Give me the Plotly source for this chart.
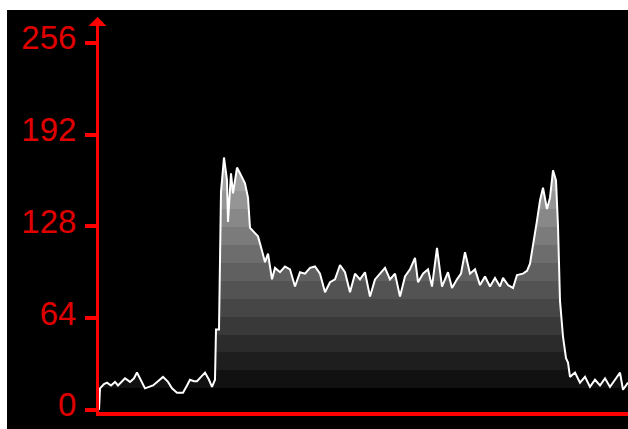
import plotly.graph_objects as go

# Line-profile data (position along profile, intensity 0-255)
positions = [2, 3, 7, 10, 14, 18, 21, 25, 28, 33, 37, 40, 44, 48, 52, 56, 61, 66, 71, 75,
             80, 86, 90, 93, 97, 100, 104, 108, 112, 115, 118, 119, 122, 123, 124, 127, 130, 131, 134, 136,
             140, 143, 145, 148, 151, 153, 157, 161, 165, 168, 171, 173, 175, 178, 183, 188, 193, 198, 203, 208,
             213, 218, 223, 228, 233, 238, 243, 248, 253, 258, 263, 268, 273, 278, 283, 288, 293, 298, 303, 308,
             313, 318, 321, 326, 331, 335, 340, 345, 351, 355, 360, 364, 368, 373, 378, 383, 388, 393, 398, 403,
             406, 411, 416, 420, 426, 430, 433, 436, 440, 443, 446, 450, 453, 456, 459, 461, 463, 466, 469, 471,
             473, 478, 483, 488, 493, 498, 503, 508, 513, 518, 523, 526, 531]
intensity = [0, 15, 18, 19, 17, 19.5, 17, 20, 22, 19.5, 22, 26, 20, 15, 16, 17, 20, 23, 19.5, 15,
             12, 12, 17, 21, 20, 20, 23, 26, 21, 16, 21, 56, 56, 111, 152, 176, 160, 131, 165, 151,
             169, 165, 162, 158, 148, 127, 124, 121, 111, 103, 109, 101, 91, 99, 96, 100, 98, 86, 96, 95,
             99, 100, 95, 82, 89, 91, 101, 96, 82, 95, 91, 96, 79, 91, 95, 99, 91, 95, 79, 93,
             98, 106, 89, 95, 98, 86, 113, 86, 96, 85, 91, 95, 110, 95, 98, 87, 93, 86, 92, 86,
             92, 87, 85, 94, 95, 97, 102, 114, 132, 146, 155, 140, 148, 167, 160, 128, 76, 51, 36, 33,
             23, 26, 19, 23, 16, 21, 17, 22, 16, 21, 26, 14, 19]

tick_values = [0, 64, 128, 192, 256]
tick_labels = ["0", "64", "128", "192", "256"]

# banded grey fill gradient
band_edges = [0, 15, 27.5, 40, 52.5, 65, 77.5, 90, 102.5, 115, 127.5, 140, 152.5, 165, 177.5]
band_greys = [0, 17, 30, 43, 57, 70, 83, 96, 109, 123, 136, 149, 162, 175]
top = band_edges[-1]
cscale = []
for i, g in enumerate(band_greys):
    c = f"rgb({g},{g},{g})"
    cscale.append([band_edges[i] / top, c])
    cscale.append([band_edges[i + 1] / top, c])

fig = go.Figure()
fig.add_trace(go.Scatter(
    x=positions, y=intensity, mode="lines",
    line=dict(color="white", width=2),
    fill="tozeroy",
    fillgradient=dict(type="vertical", start=0, stop=top, colorscale=cscale),
    hoverinfo="skip", showlegend=False,
))

fig.update_layout(
    width=628, height=429,
    margin=dict(l=99, r=0, t=20, b=17),
    paper_bgcolor="white", plot_bgcolor="black",
    showlegend=False,
    shapes=[dict(type="rect", xref="paper", yref="paper",
                 x0=-0.1739, x1=1.01, y0=-0.07, y1=1.0256,
                 fillcolor="black", line=dict(width=0), layer="below")],
    annotations=[dict(xref="paper", yref="paper", x=0, y=1, xshift=-1.5, yshift=3,
                      text="", showarrow=True, ax=0, ay=12, axref="pixel", ayref="pixel",
                      arrowhead=1, arrowsize=1, arrowwidth=3, arrowcolor="#ff0000")],
)
fig.update_xaxes(range=[2, 531], showline=True, linecolor="#ff0000", linewidth=4,
                 showticklabels=False, ticks="", showgrid=False, zeroline=False)
fig.update_yaxes(range=[-1.5, 271.9], showline=True, linecolor="#ff0000", linewidth=3,
                 ticks="outside", ticklen=11, tickwidth=4, tickcolor="#ff0000",
                 tickvals=tick_values, ticktext=tick_labels,
                 tickfont=dict(family="Liberation Sans Narrow, Liberation Sans", size=33, color="#e00000"),
                 ticklabelstandoff=2, ticklabelshift=-5,
                 showgrid=False, zeroline=False)

fig.write_html("out.html")
